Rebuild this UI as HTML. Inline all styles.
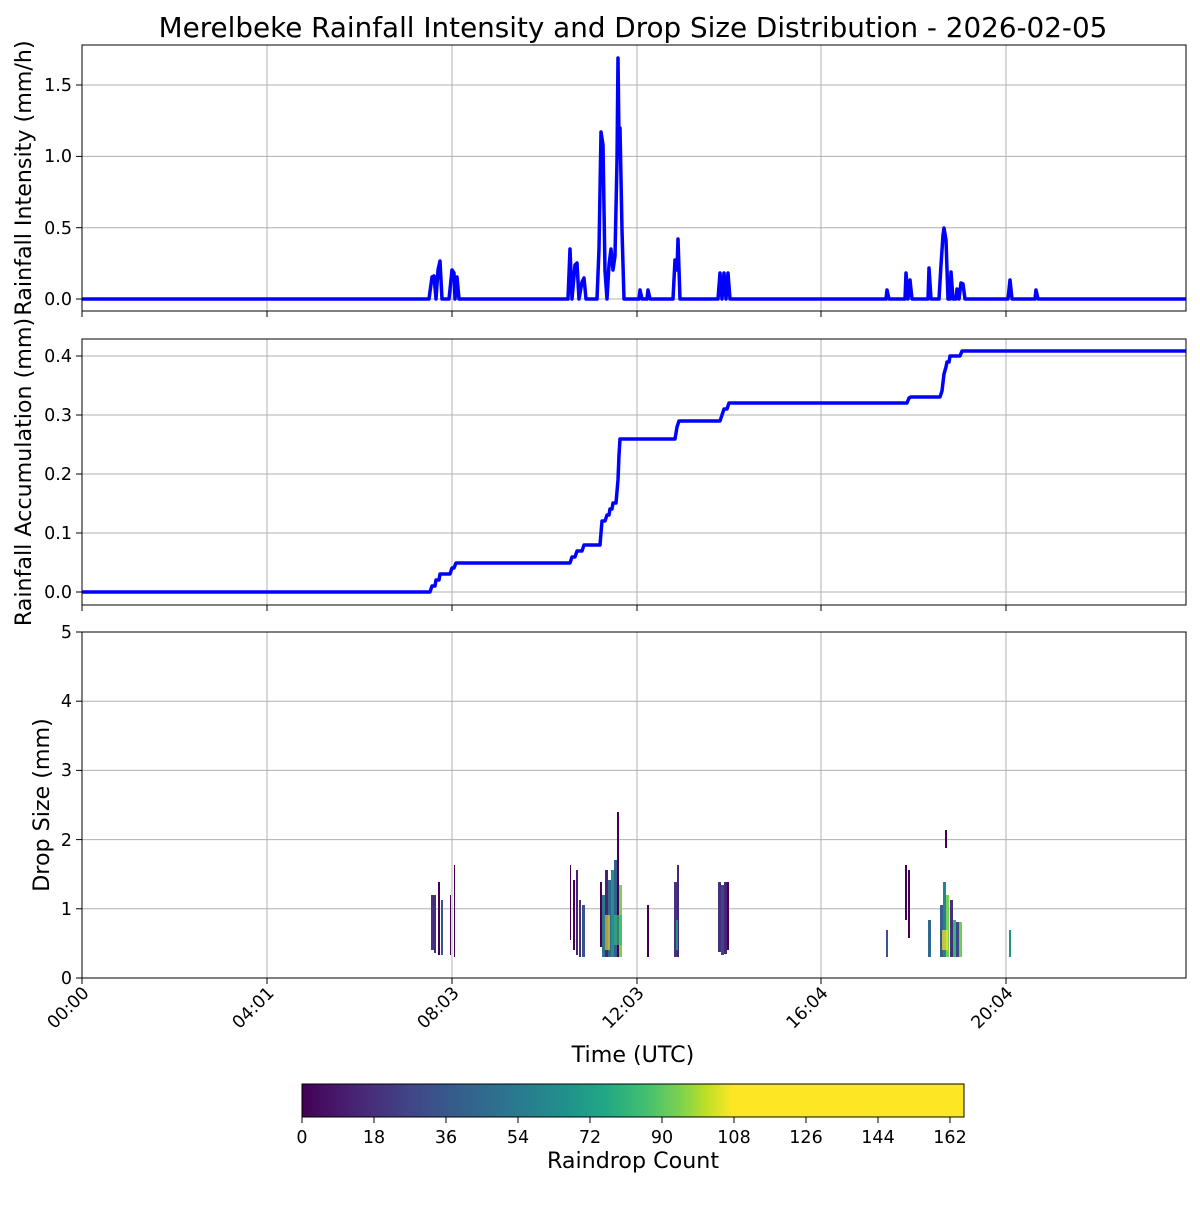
<!DOCTYPE html>
<html><head><meta charset="utf-8"><style>
body{margin:0;background:#fff}
svg{font-family:"DejaVu Sans","Liberation Sans",sans-serif}
</style></head><body>
<svg width="1200" height="1200" viewBox="0 0 1200 1200" xmlns="http://www.w3.org/2000/svg">
<defs>
<linearGradient id="vir" x1="0" x2="1" y1="0" y2="0">
<stop offset="0" stop-color="#440154"/>
<stop offset="0.08" stop-color="#482475"/>
<stop offset="0.16" stop-color="#414487"/>
<stop offset="0.24" stop-color="#355f8d"/>
<stop offset="0.32" stop-color="#2a788e"/>
<stop offset="0.40" stop-color="#21918c"/>
<stop offset="0.46" stop-color="#22a884"/>
<stop offset="0.52" stop-color="#44bf70"/>
<stop offset="0.57" stop-color="#7ad151"/>
<stop offset="0.61" stop-color="#bddf26"/>
<stop offset="0.65" stop-color="#fde725"/>
<stop offset="1" stop-color="#fde725"/>
</linearGradient>
</defs>
<text x="633" y="37" font-size="27.8" text-anchor="middle">Merelbeke Rainfall Intensity and Drop Size Distribution - 2026-02-05</text>

<g stroke="#b0b0b0" stroke-width="1">
<line x1="267" y1="45" x2="267" y2="311"/><line x1="452" y1="45" x2="452" y2="311"/><line x1="637" y1="45" x2="637" y2="311"/><line x1="821" y1="45" x2="821" y2="311"/><line x1="1006" y1="45" x2="1006" y2="311"/>
<line x1="82" y1="299" x2="1186" y2="299"/><line x1="82" y1="227.7" x2="1186" y2="227.7"/><line x1="82" y1="156.4" x2="1186" y2="156.4"/><line x1="82" y1="85" x2="1186" y2="85"/>
<line x1="267" y1="339" x2="267" y2="605"/><line x1="452" y1="339" x2="452" y2="605"/><line x1="637" y1="339" x2="637" y2="605"/><line x1="821" y1="339" x2="821" y2="605"/><line x1="1006" y1="339" x2="1006" y2="605"/>
<line x1="82" y1="592" x2="1186" y2="592"/><line x1="82" y1="533" x2="1186" y2="533"/><line x1="82" y1="474" x2="1186" y2="474"/><line x1="82" y1="415" x2="1186" y2="415"/><line x1="82" y1="356" x2="1186" y2="356"/>
<line x1="267" y1="632" x2="267" y2="978"/><line x1="452" y1="632" x2="452" y2="978"/><line x1="637" y1="632" x2="637" y2="978"/><line x1="821" y1="632" x2="821" y2="978"/><line x1="1006" y1="632" x2="1006" y2="978"/>
<line x1="82" y1="908.8" x2="1186" y2="908.8"/><line x1="82" y1="839.6" x2="1186" y2="839.6"/><line x1="82" y1="770.4" x2="1186" y2="770.4"/><line x1="82" y1="701.2" x2="1186" y2="701.2"/>
</g>

<path fill="none" stroke="#0000ff" stroke-width="3.5" stroke-linejoin="round" d="M82,299 L429,299 L432,277 L434,276 L436,299 L438,270 L440,261 L442,299 L449,299 L452,270 L454,273 L455,299 L457,277 L459,299 L568,299 L570,249 L572,299 L575,265 L577,263 L579,299 L582,282 L584,278 L586,299 L597,299 L599,249 L601,132 L603,145 L605,271 L607,299 L609,265 L611,249 L613,270 L615,256 L617,160 L618,58 L619,140 L620,128 L622,230 L624,299 L639,299 L640,290 L642,299 L647,299 L648,290 L650,299 L673,299 L675,260 L677,270 L678,239 L680,299 L718,299 L720,273 L722,299 L724,273 L726,299 L728,273 L730,299 L886,299 L887,290 L889,299 L905,299 L906,273 L908,299 L910,280 L912,299 L928,299 L929,268 L931,299 L939,299 L941,265 L943,235 L944,228 L946,240 L948,299 L950,299 L951,272 L953,299 L956,299 L957,289 L959,299 L961,283 L963,284 L965,299 L1008,299 L1010,280 L1012,299 L1035,299 L1036,290 L1038,299 L1186,299"/>

<path fill="none" stroke="#0000ff" stroke-width="3.5" stroke-linejoin="round" d="M82,592 L430,592 L432,586 L435,586 L436,580 L439,580 L440,574 L450,574 L452,568 L454,568 L456,563 L570,563 L572,557 L575,557 L577,551 L582,551 L584,545 L600,545 L602,521 L605,521 L607,515 L609,515 L610,509 L612,509 L613,503 L616,503 L618,480 L619,455 L620,439 L675,439 L677,427 L679,421 L720,421 L722,415 L724,409 L727,409 L729,403 L907,403 L909,398 L911,397 L940,397 L942,391 L944,374 L946,367 L947,362 L949,362 L950,356 L953,356 L955,356 L960,356 L962,351 L1186,351"/>

<g>
<rect x="431" y="895" width="3" height="55" fill="#46317e"/>
<rect x="434" y="895" width="2" height="58" fill="#472c7a"/>
<rect x="438" y="882" width="2" height="73" fill="#440154"/>
<rect x="441" y="900" width="2" height="55" fill="#3b528b"/>
<rect x="450" y="895" width="1" height="60" fill="#440154"/>
<rect x="454" y="865" width="1" height="92" fill="#440154"/>
<rect x="570" y="865" width="1" height="75" fill="#440154"/>
<rect x="573" y="880" width="2" height="70" fill="#440154"/>
<rect x="576" y="870" width="2" height="85" fill="#482475"/>
<rect x="579" y="900" width="2" height="57" fill="#46317e"/>
<rect x="582" y="905" width="3" height="52" fill="#3b528b"/>
<rect x="600" y="882" width="2" height="65" fill="#440154"/>
<rect x="602" y="895" width="3" height="62" fill="#2a788e"/>
<rect x="605" y="870" width="3" height="87" fill="#482475"/>
<rect x="608" y="880" width="3" height="77" fill="#31688e"/>
<rect x="611" y="870" width="3" height="87" fill="#21918c"/>
<rect x="614" y="860" width="3" height="97" fill="#355f8d"/>
<rect x="617" y="812" width="2" height="145" fill="#440154"/>
<rect x="619" y="885" width="3" height="72" fill="#7ad151"/>
<rect x="614" y="915" width="8" height="30" fill="#35b779" opacity="0.7"/>
<rect x="605" y="915" width="5" height="35" fill="#fde725" opacity="0.6"/>
<rect x="647" y="905" width="2" height="52" fill="#440154"/>
<rect x="674" y="882" width="3" height="75" fill="#46317e"/>
<rect x="677" y="865" width="2" height="92" fill="#482475"/>
<rect x="676" y="920" width="2" height="30" fill="#21918c"/>
<rect x="718" y="882" width="3" height="70" fill="#46317e"/>
<rect x="721" y="885" width="3" height="70" fill="#414487"/>
<rect x="724" y="882" width="3" height="72" fill="#482475"/>
<rect x="727" y="882" width="2" height="68" fill="#440154"/>
<rect x="886" y="930" width="2" height="27" fill="#3b528b"/>
<rect x="905" y="865" width="2" height="55" fill="#440154"/>
<rect x="908" y="870" width="2" height="68" fill="#440154"/>
<rect x="928" y="920" width="3" height="37" fill="#31688e"/>
<rect x="940" y="905" width="3" height="52" fill="#355f8d"/>
<rect x="943" y="882" width="3" height="75" fill="#26828e"/>
<rect x="945" y="830" width="2" height="18" fill="#440154"/>
<rect x="946" y="895" width="3" height="62" fill="#7ad151"/>
<rect x="942" y="930" width="6" height="20" fill="#fde725" opacity="0.7"/>
<rect x="950" y="900" width="3" height="57" fill="#46317e"/>
<rect x="953" y="920" width="3" height="37" fill="#35b779"/>
<rect x="956" y="922" width="3" height="35" fill="#414487"/>
<rect x="959" y="922" width="3" height="35" fill="#6ece58"/>
<rect x="1009" y="930" width="2" height="27" fill="#21918c"/>
</g>

<g fill="none" stroke="#000" stroke-width="1">
<rect x="82" y="45" width="1104" height="266"/>
<rect x="82" y="339" width="1104" height="266"/>
<rect x="82" y="632" width="1104" height="346"/>
<rect x="302" y="1084" width="662" height="33" fill="url(#vir)"/>
</g>

<g stroke="#000" stroke-width="1">
<line x1="76" y1="299" x2="82" y2="299"/><line x1="76" y1="227.7" x2="82" y2="227.7"/><line x1="76" y1="156.4" x2="82" y2="156.4"/><line x1="76" y1="85" x2="82" y2="85"/>
<line x1="76" y1="592" x2="82" y2="592"/><line x1="76" y1="533" x2="82" y2="533"/><line x1="76" y1="474" x2="82" y2="474"/><line x1="76" y1="415" x2="82" y2="415"/><line x1="76" y1="356" x2="82" y2="356"/>
<line x1="76" y1="978" x2="82" y2="978"/><line x1="76" y1="908.8" x2="82" y2="908.8"/><line x1="76" y1="839.6" x2="82" y2="839.6"/><line x1="76" y1="770.4" x2="82" y2="770.4"/><line x1="76" y1="701.2" x2="82" y2="701.2"/><line x1="76" y1="632" x2="82" y2="632"/>
<line x1="82" y1="311" x2="82" y2="317"/><line x1="267" y1="311" x2="267" y2="317"/><line x1="452" y1="311" x2="452" y2="317"/><line x1="637" y1="311" x2="637" y2="317"/><line x1="821" y1="311" x2="821" y2="317"/><line x1="1006" y1="311" x2="1006" y2="317"/>
<line x1="82" y1="605" x2="82" y2="611"/><line x1="267" y1="605" x2="267" y2="611"/><line x1="452" y1="605" x2="452" y2="611"/><line x1="637" y1="605" x2="637" y2="611"/><line x1="821" y1="605" x2="821" y2="611"/><line x1="1006" y1="605" x2="1006" y2="611"/>
<line x1="82" y1="978" x2="82" y2="984"/><line x1="267" y1="978" x2="267" y2="984"/><line x1="452" y1="978" x2="452" y2="984"/><line x1="637" y1="978" x2="637" y2="984"/><line x1="821" y1="978" x2="821" y2="984"/><line x1="1006" y1="978" x2="1006" y2="984"/>
<line x1="302" y1="1117" x2="302" y2="1123"/><line x1="374" y1="1117" x2="374" y2="1123"/><line x1="446" y1="1117" x2="446" y2="1123"/><line x1="518" y1="1117" x2="518" y2="1123"/><line x1="590" y1="1117" x2="590" y2="1123"/><line x1="662" y1="1117" x2="662" y2="1123"/><line x1="734" y1="1117" x2="734" y2="1123"/><line x1="806" y1="1117" x2="806" y2="1123"/><line x1="878" y1="1117" x2="878" y2="1123"/><line x1="950" y1="1117" x2="950" y2="1123"/>
</g>

<g font-size="17.5" text-anchor="end">
<text x="72" y="305">0.0</text><text x="72" y="234">0.5</text><text x="72" y="162">1.0</text><text x="72" y="91">1.5</text>
<text x="72" y="598">0.0</text><text x="72" y="539">0.1</text><text x="72" y="480">0.2</text><text x="72" y="421">0.3</text><text x="72" y="362">0.4</text>
<text x="72" y="984">0</text><text x="72" y="915">1</text><text x="72" y="846">2</text><text x="72" y="776">3</text><text x="72" y="707">4</text><text x="72" y="638">5</text>
</g>
<g font-size="17.5" text-anchor="end">
<text transform="translate(90,994) rotate(-45)">00:00</text>
<text transform="translate(275,994) rotate(-45)">04:01</text>
<text transform="translate(460,994) rotate(-45)">08:03</text>
<text transform="translate(645,994) rotate(-45)">12:03</text>
<text transform="translate(829,994) rotate(-45)">16:04</text>
<text transform="translate(1014,994) rotate(-45)">20:04</text>
</g>
<g font-size="17.5" text-anchor="middle">
<text x="302" y="1143">0</text><text x="374" y="1143">18</text><text x="446" y="1143">36</text><text x="518" y="1143">54</text><text x="590" y="1143">72</text><text x="662" y="1143">90</text><text x="734" y="1143">108</text><text x="806" y="1143">126</text><text x="878" y="1143">144</text><text x="950" y="1143">162</text>
</g>
<g font-size="22.2" text-anchor="middle">
<text transform="translate(31,178) rotate(-90)">Rainfall Intensity (mm/h)</text>
<text transform="translate(31,472) rotate(-90)">Rainfall Accumulation (mm)</text>
<text transform="translate(49,805) rotate(-90)">Drop Size (mm)</text>
<text x="633" y="1062">Time (UTC)</text>
<text x="633" y="1168">Raindrop Count</text>
</g>
</svg>
</body></html>
